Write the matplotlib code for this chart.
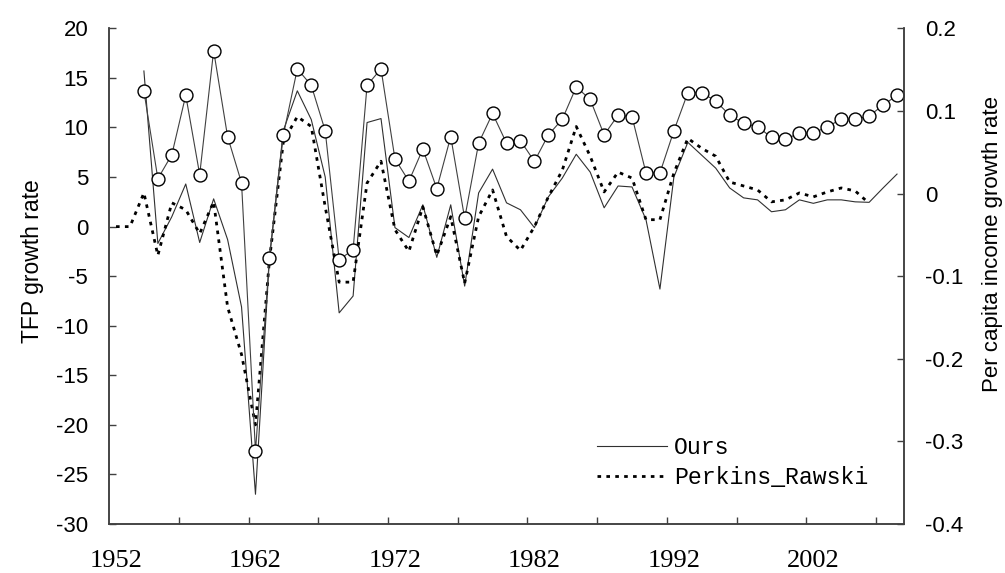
import matplotlib
matplotlib.use("Agg")
import matplotlib.pyplot as plt
import numpy as np
from matplotlib.ticker import FixedLocator, FuncFormatter

plt.rcParams['font.family'] = ['Liberation Sans', 'DejaVu Sans']
plt.rcParams['axes.unicode_minus'] = False

# 人均收入增长率 (右轴, 圆圈)
income_years = list(range(1954, 2009))
income_growth = [0.124, 0.018, 0.047, 0.119, 0.023, 0.173, 0.069, 0.013, -0.312, -0.078,
                 0.071, 0.151, 0.131, 0.076, -0.080, -0.068, 0.131, 0.151, 0.042, 0.015,
                 0.054, 0.006, 0.069, -0.030, 0.061, 0.097, 0.061, 0.064, 0.039, 0.071,
                 0.090, 0.129, 0.114, 0.071, 0.095, 0.093, 0.025, 0.025, 0.076, 0.122,
                 0.122, 0.112, 0.095, 0.085, 0.081, 0.068, 0.066, 0.073, 0.073, 0.081,
                 0.090, 0.090, 0.094, 0.107, 0.119]

# TFP 增长率 - Ours
ours_years = list(range(1954, 2009))
ours_tfp = [15.7, -1.7, 1.0, 4.3, -1.6, 2.8, -1.3, -8.1, -27.0, -3.2,
            9.7, 13.7, 10.8, 5.0, -8.7, -7.0, 10.5, 10.9, -0.1, -1.1,
            2.2, -3.1, 2.2, -6.0, 3.4, 5.8, 2.4, 1.7, -0.1, 3.0,
            4.9, 7.3, 5.5, 1.9, 4.1, 4.0, 0.7, -6.3, 5.0, 8.5,
            7.2, 5.9, 3.9, 2.9, 2.7, 1.5, 1.7, 2.7, 2.35, 2.7,
            2.7, 2.5, 2.45, 3.9, 5.3]

# TFP 增长率 - Perkins_Rawski
pr_years = list(range(1952, 2007))
pr_tfp = [0.0, 0.0, 3.4, -2.9, 2.4, 1.7, -0.7, 2.5, -8.1, -12.9,
          -20.0, -3.4, 8.6, 11.1, 10.1, 2.0, -5.6, -5.6, 4.4, 6.6,
          -0.3, -2.5, 2.0, -2.9, 1.0, -5.7, 1.0, 3.7, -1.0, -2.4,
          0.0, 3.0, 5.7, 10.1, 7.1, 3.5, 5.5, 4.9, 0.7, 0.7,
          5.4, 8.9, 7.9, 7.1, 4.5, 4.1, 3.7, 2.5, 2.7, 3.4,
          3.0, 3.5, 3.9, 3.6, 2.35]

label_years = list(range(1952, 2003, 10))

fig = plt.figure(figsize=(10.05, 5.73), dpi=100)
ax = fig.add_axes([0.1085, 0.0855, 0.791, 0.865])
ax2 = ax.twinx()

spine_c = '#404040'

l1, = ax.plot(ours_years, ours_tfp, color='#303030', lw=0.8, label='Ours')
l2, = ax.plot(pr_years, pr_tfp, color='black', lw=2.0, dashes=(1.3, 1.9), label='Perkins_Rawski')

ax2.plot(income_years, income_growth, color='#404040', lw=0.8,
         marker='o', markersize=9.3, markerfacecolor='white',
         markeredgecolor='black', markeredgewidth=1.0)

# 坐标轴范围
ax.set_xlim(1951.5, 2008.5)
ax.set_ylim(-30, 20)
ax2.set_ylim(-0.4, 0.2)

ax.set_yticks(np.arange(-30, 21, 5))
ax2.set_yticks(np.round(np.arange(-0.4, 0.21, 0.1), 1))
ax2.yaxis.set_major_formatter(FuncFormatter(lambda v, p: f"{round(v, 1) + 0.0:g}"))

ax.xaxis.set_major_locator(FixedLocator(label_years))
ax.xaxis.set_minor_locator(FixedLocator(np.arange(1956.5, 2008, 5)))
ax.set_xticklabels([str(y) for y in label_years], family='Liberation Serif', fontsize=19)
ax.tick_params(axis='x', which='major', length=0, pad=19)
ax.tick_params(axis='x', which='minor', direction='in', length=5, width=1, color=spine_c)
ax.tick_params(axis='y', direction='in', length=5, width=1, color=spine_c, labelsize=16, pad=15)
ax2.tick_params(axis='y', direction='in', length=5, width=1, color=spine_c, labelsize=16, pad=15)

for a in (ax, ax2):
    a.spines['top'].set_visible(False)
    for s in ('left', 'right', 'bottom'):
        a.spines[s].set_color(spine_c)
        a.spines[s].set_linewidth(1.1)

fig.text(0.032, 0.545, 'TFP growth rate', rotation=90, ha='center', va='center', fontsize=16.5)
fig.text(0.988, 0.575, 'Per capita income growth rate', rotation=90, ha='center', va='center', fontsize=16)

# 图例
leg = ax.legend(handles=[l1, l2], loc='upper left', bbox_to_anchor=(0.614, 0.178),
                frameon=False, prop={'family': 'Liberation Mono', 'size': 16.7},
                handlelength=3.0, handletextpad=0.3, labelspacing=0.33,
                borderpad=0, borderaxespad=0)

fig.savefig('out.png', dpi=100)
